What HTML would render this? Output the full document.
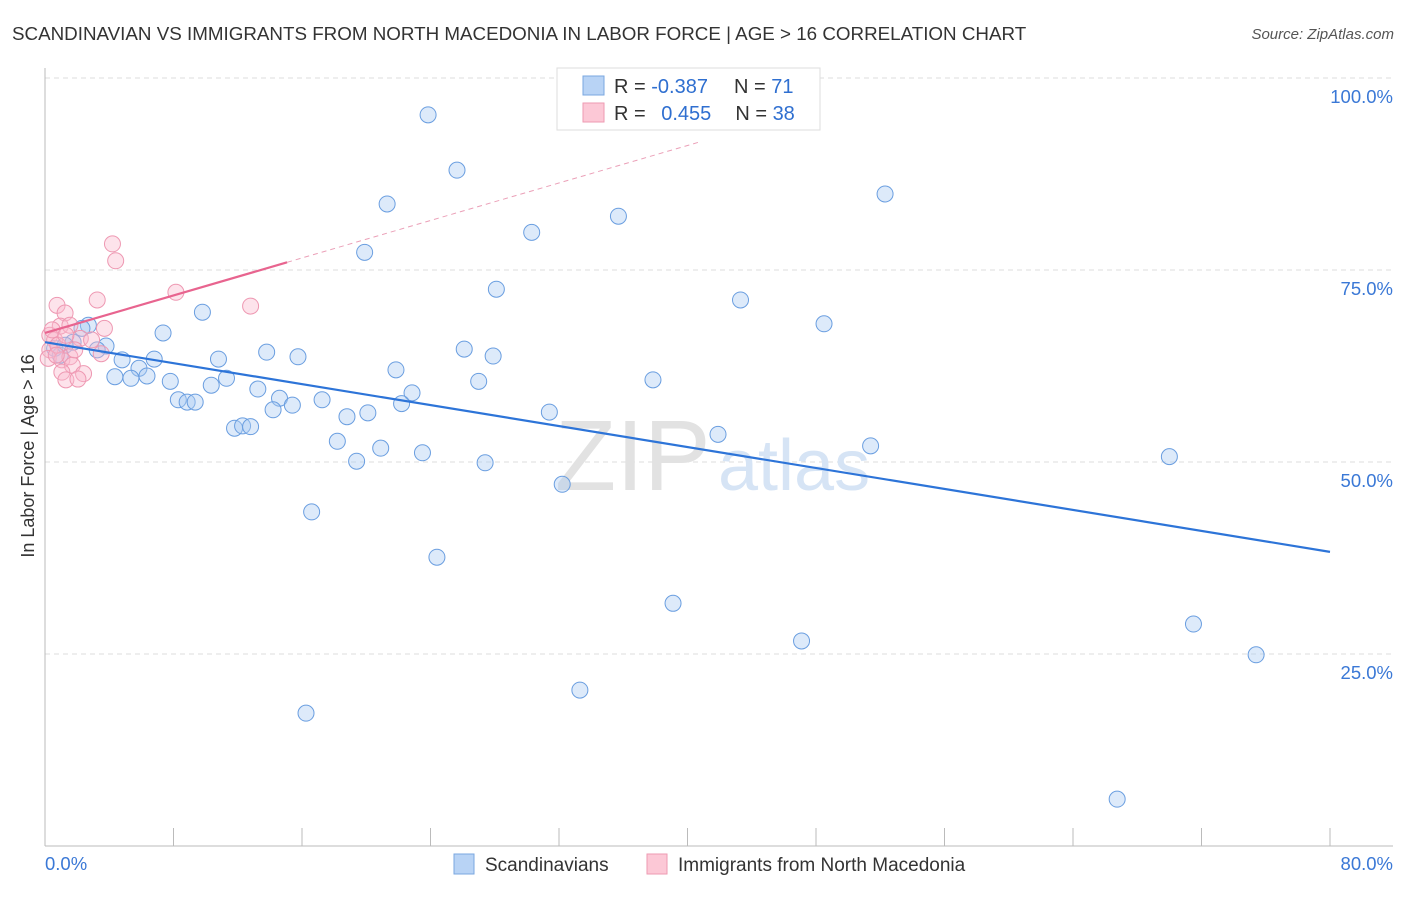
<!DOCTYPE html>
<html><head><meta charset="utf-8"><style>
body{margin:0;background:#fff;font-family:"Liberation Sans",sans-serif;}
svg text{font-family:"Liberation Sans",sans-serif;}
</style></head><body>
<svg width="1406" height="892" viewBox="0 0 1406 892">
<text x="12" y="40" font-size="18.8" fill="#333">SCANDINAVIAN VS IMMIGRANTS FROM NORTH MACEDONIA IN LABOR FORCE | AGE &gt; 16 CORRELATION CHART</text>
<text x="1394" y="39" font-size="15" fill="#555" text-anchor="end" font-style="italic">Source: ZipAtlas.com</text>
<g id="grid"></g>
<g><text x="555" y="490" font-size="100" fill="#e2e2e2" font-family="Liberation Serif">ZIP</text><text x="718" y="490" font-size="72" fill="#d6e4f5">atlas</text></g>
<g id="axes"></g>
<g id="pts"></g>
<g id="trends"></g>
<text transform="translate(34,456) rotate(-90)" font-size="18" fill="#333" text-anchor="middle">In Labor Force | Age &gt; 16</text>
<g>
<rect x="557" y="68" width="263" height="62" fill="#fff" stroke="#ddd"/>
<rect x="583" y="76" width="21" height="19" fill="#b8d3f5" stroke="#7aa7e0"/>
<rect x="583" y="103" width="21" height="19" fill="#fcc8d6" stroke="#ee9ab2"/>
<text x="614" y="93" font-size="20" fill="#333">R = <tspan fill="#2f6fd0">-0.387</tspan><tspan dx="26">N = </tspan><tspan fill="#2f6fd0"> 71</tspan></text>
<text x="614" y="120" font-size="20" fill="#333">R = <tspan fill="#2f6fd0" dx="10">0.455</tspan><tspan dx="24">N = </tspan><tspan fill="#2f6fd0">38</tspan></text>
</g>
<g>
<rect x="454" y="854" width="20" height="20" fill="#b8d3f5" stroke="#7aa7e0"/>
<text x="485" y="871" font-size="19" fill="#333">Scandinavians</text>
<rect x="647" y="854" width="20" height="20" fill="#fcc8d6" stroke="#ee9ab2"/>
<text x="678" y="871" font-size="19" fill="#333">Immigrants from North Macedonia</text>
</g>
</svg>
<script>
const blueX=[23.85,25.65,21.3,35.7,30.3,52.3,19.9,28.1,43.3,48.5,9.8,7.35,2.7,2.3,1.75,3.8,3.25,13.8,15.75,10.8,6.8,4.8,26.1,27.9,5.85,21.85,4.35,5.35,6.35,7.8,27.0,37.85,10.35,11.3,13.25,22.85,8.3,8.85,9.35,14.6,17.25,15.4,22.2,14.2,20.1,18.8,31.4,11.8,12.3,12.8,41.9,18.2,20.9,51.4,23.5,19.4,27.4,70.0,32.2,16.6,24.4,39.1,47.1,71.5,75.4,33.3,16.25,66.75,0.6,0.95,1.25];
const blueY=[95.2,88.0,83.6,82.0,79.9,84.9,77.3,72.5,71.1,68.0,69.5,66.8,67.8,67.4,65.6,65.1,64.6,64.3,63.7,63.4,63.4,63.3,64.7,63.8,62.2,62.0,61.1,60.9,61.2,60.5,60.5,60.7,60.0,60.9,59.5,59.0,58.1,57.8,57.8,58.3,58.1,57.4,57.6,56.8,56.4,55.9,56.5,54.4,54.7,54.6,53.6,52.7,51.8,52.1,51.2,50.1,49.9,50.7,47.1,43.5,37.6,31.6,26.7,28.9,24.9,20.3,17.3,6.1,64.8,63.9,65.2];
const pinkX=[4.2,4.4,8.15,3.25,12.8,0.75,1.25,3.7,0.95,1.55,0.3,0.6,2.2,2.9,0.3,0.8,0.2,1.05,1.55,1.7,3.5,1.05,1.3,2.4,2.05,0.45,1.3,0.7,1.85];
const pinkY=[78.4,76.2,72.1,71.1,70.3,70.4,69.4,67.4,67.7,67.8,66.5,65.9,66.1,65.9,64.6,65.2,63.5,63.3,63.7,62.6,64.1,61.7,60.7,61.5,60.8,67.2,66.5,63.9,64.6];
const blueTrend=[[0,65.6],[80,38.3]];
const pinkTrend=[[0,66.8],[15.07,76.0]];
const pinkDash=[[15.07,76.0],[40.8,91.7]];
const yTicks=[25,50,75,100];
const yTickLabels=["25.0%","50.0%","75.0%","100.0%"];
const xTicks=[0,8,16,24,32,40,48,56,64,72,80];
const NS="http://www.w3.org/2000/svg";
const sx=v=>45+v/80*1285, sy=v=>846-v*7.68;
function mk(t,a,p){const e=document.createElementNS(NS,t);for(const k in a)e.setAttribute(k,a[k]);p.appendChild(e);return e;}
const grid=document.getElementById('grid'),axes=document.getElementById('axes'),pts=document.getElementById('pts'),tr=document.getElementById('trends');
yTicks.forEach((v,i)=>{
 const l=mk('line',{x1:45,x2:1393,y1:sy(v),y2:sy(v),stroke:'#ddd','stroke-dasharray':'5,4'},grid);
 
 
 const t=mk('text',{x:1393,y:sy(v)+25,'font-size':18.5,fill:'#3a78d6','text-anchor':'end'},axes);t.textContent=yTickLabels[i];
 
 
});
const ya=mk('line',{x1:45,x2:45,y1:68,y2:846,stroke:'#bbb'},axes);


const xa=mk('line',{x1:45,x2:1393,y1:846,y2:846,stroke:'#bbb'},axes);


xTicks.forEach(v=>{const t=mk('line',{x1:sx(v),x2:sx(v),y1:828,y2:846,stroke:'#bbb'},axes);
 
 });
[[0,'0.0%','start',45],[80,'80.0%','end',1393]].forEach(d=>{const t=mk('text',{x:d[3],y:870,'font-size':18.5,fill:'#3a78d6','text-anchor':d[2]},axes);t.textContent=d[1];
 
 });
blueX.forEach((x,i)=>{const c=mk('circle',{cx:sx(x),cy:sy(blueY[i]),r:8,fill:'rgba(170,202,242,0.4)',stroke:'#6a9ee0','stroke-width':1},pts);
 
 });
pinkX.forEach((x,i)=>{const c=mk('circle',{cx:sx(x),cy:sy(pinkY[i]),r:8,fill:'rgba(250,185,205,0.4)',stroke:'#ee98b2','stroke-width':1},pts);
 
 });
const b=mk('line',{x1:sx(blueTrend[0][0]),y1:sy(blueTrend[0][1]),x2:sx(blueTrend[1][0]),y2:sy(blueTrend[1][1]),stroke:'#2d74d8','stroke-width':2.2},tr);


const p=mk('line',{x1:sx(pinkTrend[0][0]),y1:sy(pinkTrend[0][1]),x2:sx(pinkTrend[1][0]),y2:sy(pinkTrend[1][1]),stroke:'#e8648f','stroke-width':2.2},tr);


const pd=mk('line',{x1:sx(pinkDash[0][0]),y1:sy(pinkDash[0][1]),x2:sx(pinkDash[1][0]),y2:sy(pinkDash[1][1]),stroke:'#eba0b8','stroke-width':1,'stroke-dasharray':'5,4'},tr);


</script>
</body></html>
